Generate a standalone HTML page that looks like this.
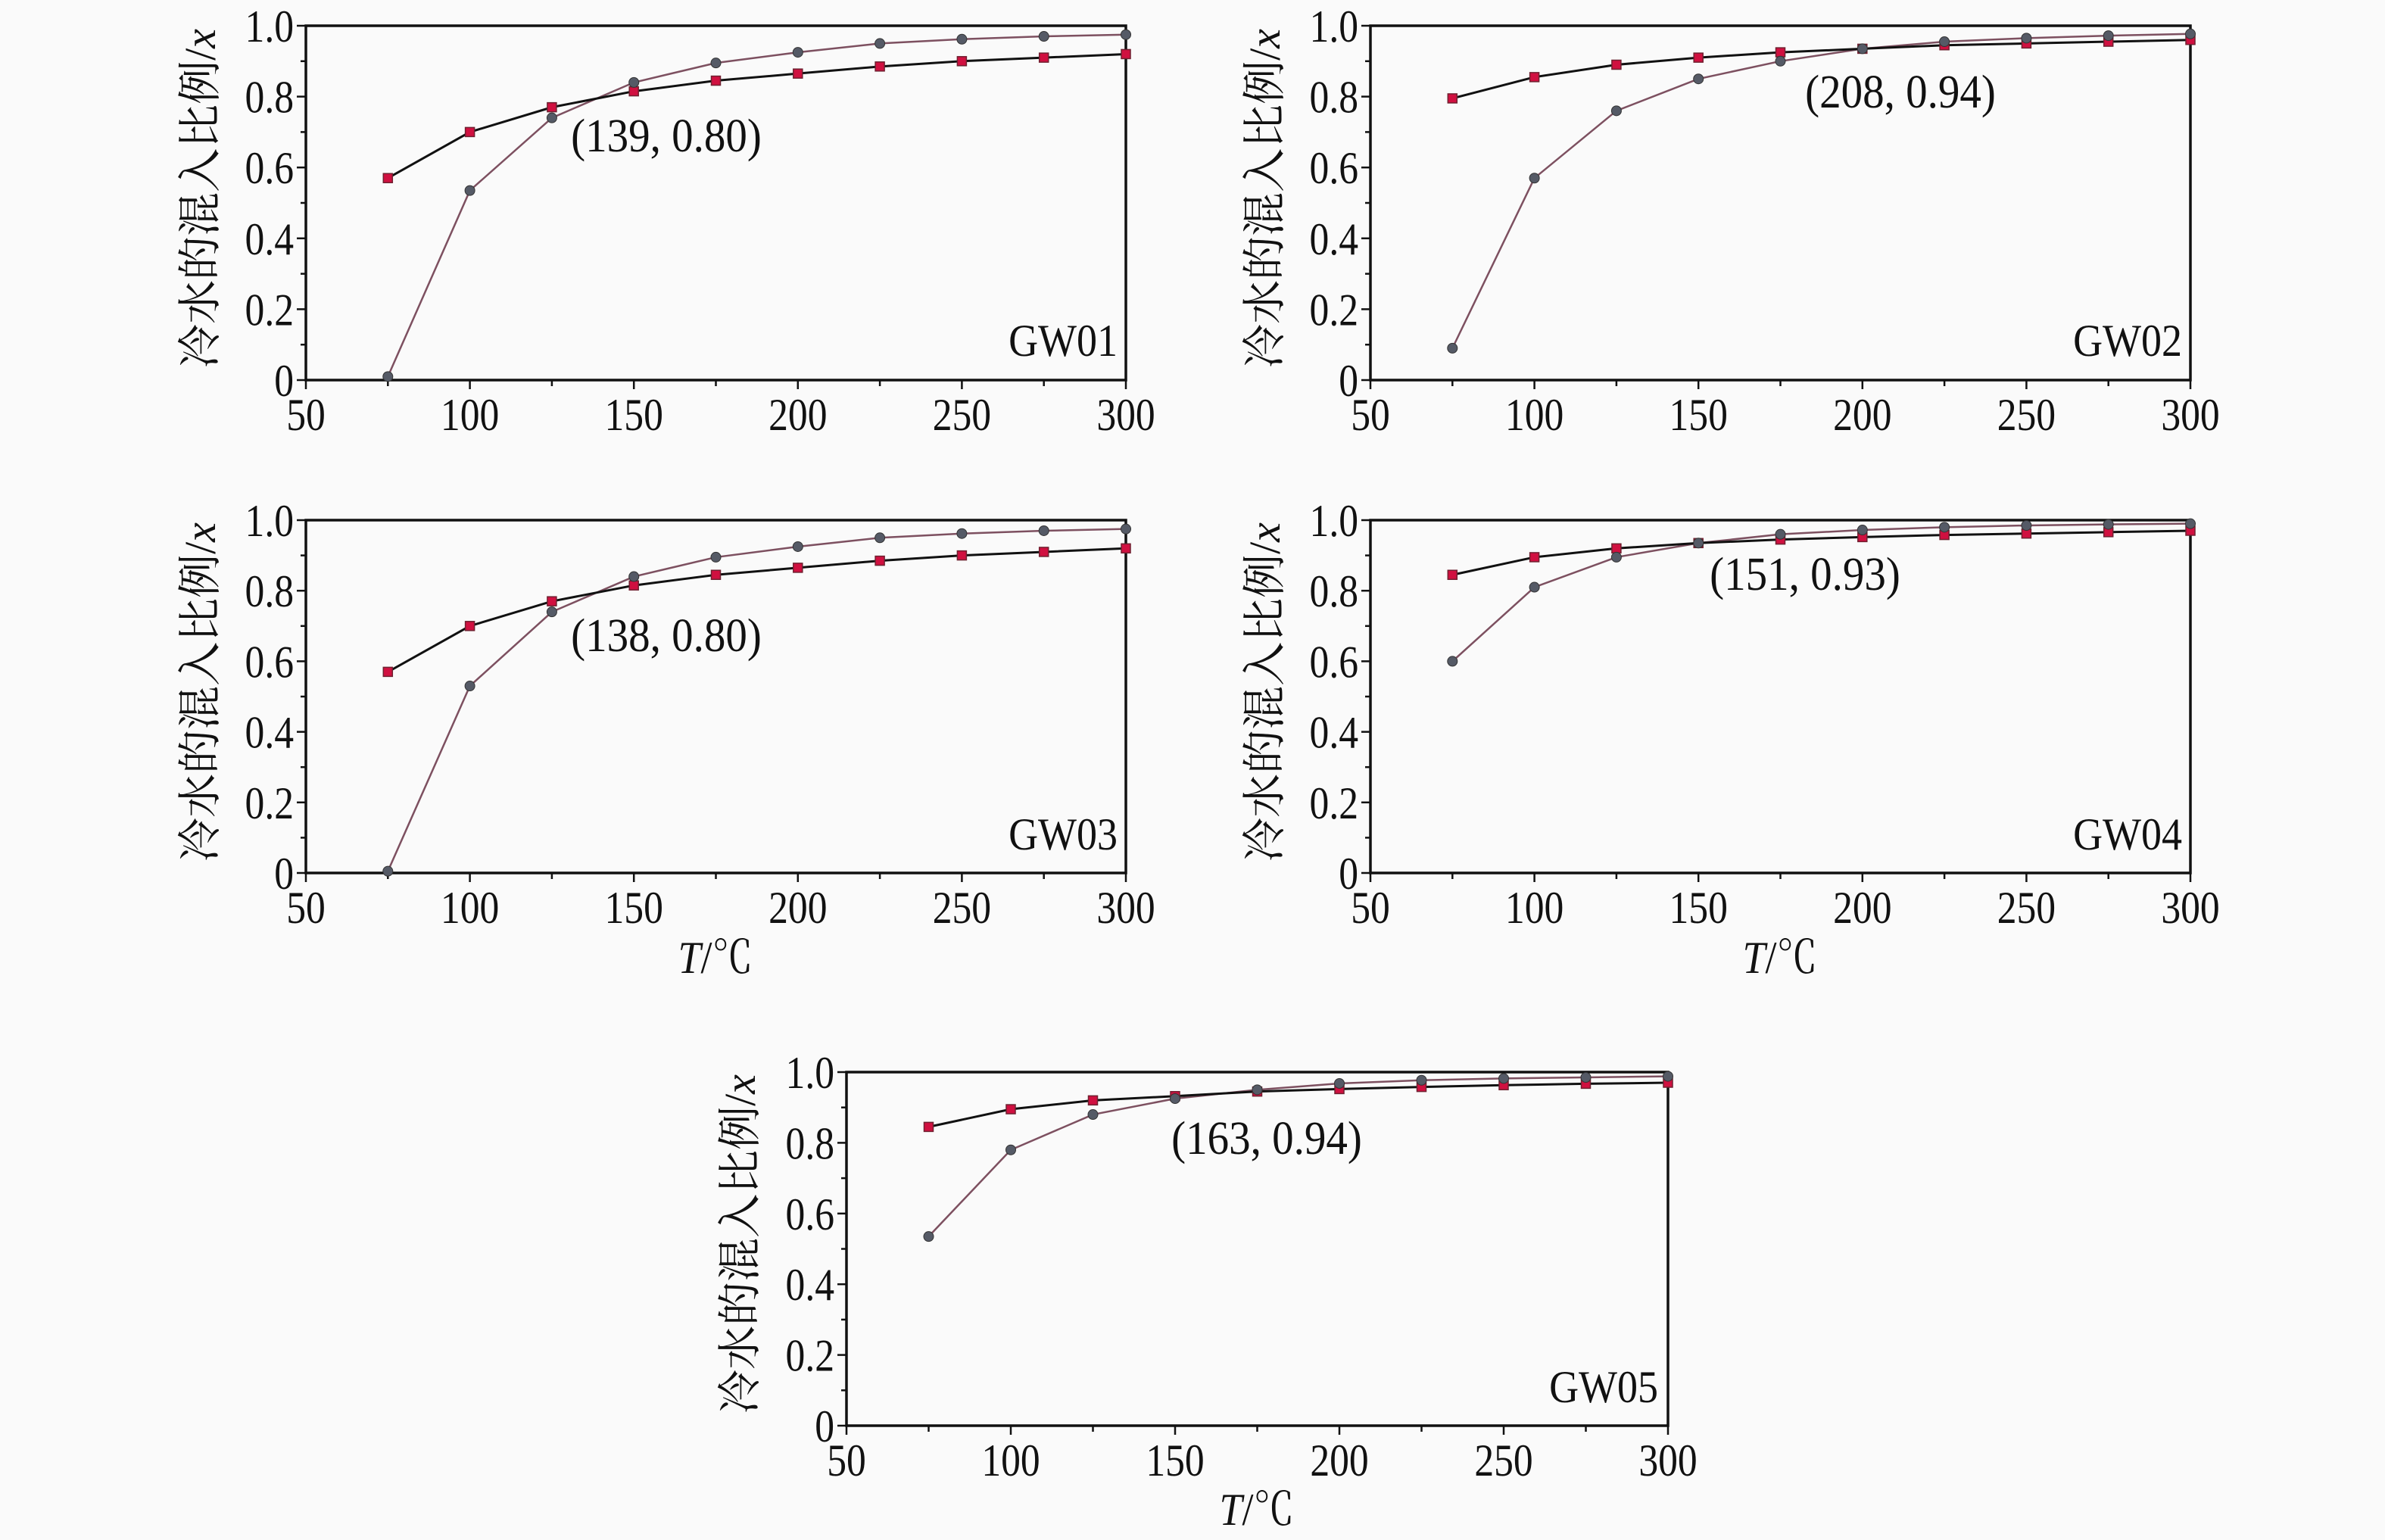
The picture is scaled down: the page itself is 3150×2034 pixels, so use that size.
<!DOCTYPE html>
<html><head><meta charset="utf-8"><style>
html,body{margin:0;padding:0;background:#fafafa;}
svg{display:block;}
text{font-family:"Liberation Serif","Noto Serif CJK SC",serif;fill:#111;}
</style></head><body>
<svg id="s" width="3150" height="2034" viewBox="0 0 3150 2034" xmlns="http://www.w3.org/2000/svg">
<rect width="3150" height="2034" fill="#fafafa"/>
<g id="plots"></g>
<!-- Y labels -->
<text transform="translate(284,262) rotate(-90) scale(1,1)" text-anchor="middle" font-size="58">冷水的混入比例/<tspan font-style="italic">x</tspan></text>
<text transform="translate(1690,262) rotate(-90)" text-anchor="middle" font-size="58">冷水的混入比例/<tspan font-style="italic">x</tspan></text>
<text transform="translate(284,914) rotate(-90)" text-anchor="middle" font-size="58">冷水的混入比例/<tspan font-style="italic">x</tspan></text>
<text transform="translate(1690,914) rotate(-90)" text-anchor="middle" font-size="58">冷水的混入比例/<tspan font-style="italic">x</tspan></text>
<text transform="translate(997,1643) rotate(-90)" text-anchor="middle" font-size="58">冷水的混入比例/<tspan font-style="italic">x</tspan></text>
<!-- X labels -->
<text transform="translate(945,1285) scale(0.9,1)" text-anchor="middle" font-size="60"><tspan font-style="italic">T</tspan>/℃</text>
<text transform="translate(2351,1285) scale(0.9,1)" text-anchor="middle" font-size="60"><tspan font-style="italic">T</tspan>/℃</text>
<text transform="translate(1660,2014) scale(0.9,1)" text-anchor="middle" font-size="60"><tspan font-style="italic">T</tspan>/℃</text>
<!-- Panel tags -->
<text transform="translate(1476,470) scale(0.9,1)" text-anchor="end" font-size="60">GW01</text>
<text transform="translate(2882,470) scale(0.9,1)" text-anchor="end" font-size="60">GW02</text>
<text transform="translate(1476,1122) scale(0.9,1)" text-anchor="end" font-size="60">GW03</text>
<text transform="translate(2882,1122) scale(0.9,1)" text-anchor="end" font-size="60">GW04</text>
<text transform="translate(2190,1852) scale(0.9,1)" text-anchor="end" font-size="60">GW05</text>
<!-- annotations -->
<text transform="translate(880,200) scale(0.92,1)" text-anchor="middle" font-size="62">(139, 0.80)</text>
<text transform="translate(2510,142) scale(0.92,1)" text-anchor="middle" font-size="62">(208, 0.94)</text>
<text transform="translate(880,860) scale(0.92,1)" text-anchor="middle" font-size="62">(138, 0.80)</text>
<text transform="translate(2384,779) scale(0.92,1)" text-anchor="middle" font-size="62">(151, 0.93)</text>
<text transform="translate(1673,1524) scale(0.92,1)" text-anchor="middle" font-size="62">(163, 0.94)</text>
<g id="ticks" font-size="60"></g>
</svg>
<script>
const P=[
 {l:404,r:1487,t:34,b:502,sq:[.57,.70,.77,.815,.845,.865,.885,.90,.91,.92],ci:[.01,.535,.74,.84,.895,.925,.95,.962,.97,.975]},
 {l:1810,r:2893,t:34,b:502,sq:[.795,.855,.89,.91,.925,.935,.945,.95,.955,.96],ci:[.09,.57,.76,.85,.90,.935,.955,.965,.972,.977]},
 {l:404,r:1487,t:687,b:1153,sq:[.57,.70,.77,.815,.845,.865,.885,.90,.91,.92],ci:[.005,.53,.74,.84,.895,.925,.95,.962,.97,.975]},
 {l:1810,r:2893,t:687,b:1153,sq:[.845,.895,.92,.935,.945,.952,.958,.962,.966,.97],ci:[.60,.81,.895,.935,.96,.972,.98,.985,.988,.99]},
 {l:1118,r:2203,t:1416,b:1883,sq:[.845,.895,.92,.932,.945,.952,.958,.963,.967,.97],ci:[.535,.78,.88,.925,.95,.968,.977,.982,.985,.988]}
];
const NS="http://www.w3.org/2000/svg";
const g=document.getElementById('plots');
function el(n,a){const e=document.createElementNS(NS,n);for(const k in a)e.setAttribute(k,a[k]);g.appendChild(e);return e;}
const tg=document.getElementById('ticks');
function tx(x,y,s,anchor){const t=document.createElementNS(NS,'text');t.setAttribute('transform','translate('+x+','+y+') scale(0.86,1)');t.setAttribute('text-anchor',anchor);t.textContent=s;tg.appendChild(t);}
P.forEach(p=>{
 const X=v=>p.l+(v-50)/250*(p.r-p.l), Y=v=>p.b-v*(p.b-p.t);
 el('rect',{x:p.l,y:p.t,width:p.r-p.l,height:p.b-p.t,fill:'none',stroke:'#111','stroke-width':3.5});
 for(let v=50;v<=300;v+=25){const big=v%50==0;el('line',{x1:X(v),x2:X(v),y1:p.b,y2:p.b+(big?12:8),stroke:'#111','stroke-width':2.5});}
 for(let i=0;i<=10;i++){const v=i/10;el('line',{x1:p.l,x2:p.l-(i%2==0?12:7),y1:Y(v),y2:Y(v),stroke:'#111','stroke-width':2.5});}
 const xs=[75,100,125,150,175,200,225,250,275,300];
 el('polyline',{points:xs.map((x,i)=>X(x)+','+Y(p.ci[i])).join(' '),fill:'none',stroke:'#7d5060','stroke-width':2.5});
 el('polyline',{points:xs.map((x,i)=>X(x)+','+Y(p.sq[i])).join(' '),fill:'none',stroke:'#111','stroke-width':3});
 xs.forEach((x,i)=>{el('rect',{x:X(x)-6,y:Y(p.sq[i])-6,width:12,height:12,fill:'#d01040',stroke:'#702030','stroke-width':1.5});});
 xs.forEach((x,i)=>{el('circle',{cx:X(x),cy:Y(p.ci[i]),r:6.5,fill:'#555a66',stroke:'#333','stroke-width':1});});
 for(let v=50;v<=300;v+=50) tx(X(v),p.b+66,String(v),'middle');
 ['0','0.2','0.4','0.6','0.8','1.0'].forEach((s,i)=>tx(p.l-16,Y(i*0.2)+21,s,'end'));
});
</script>
</body></html>
